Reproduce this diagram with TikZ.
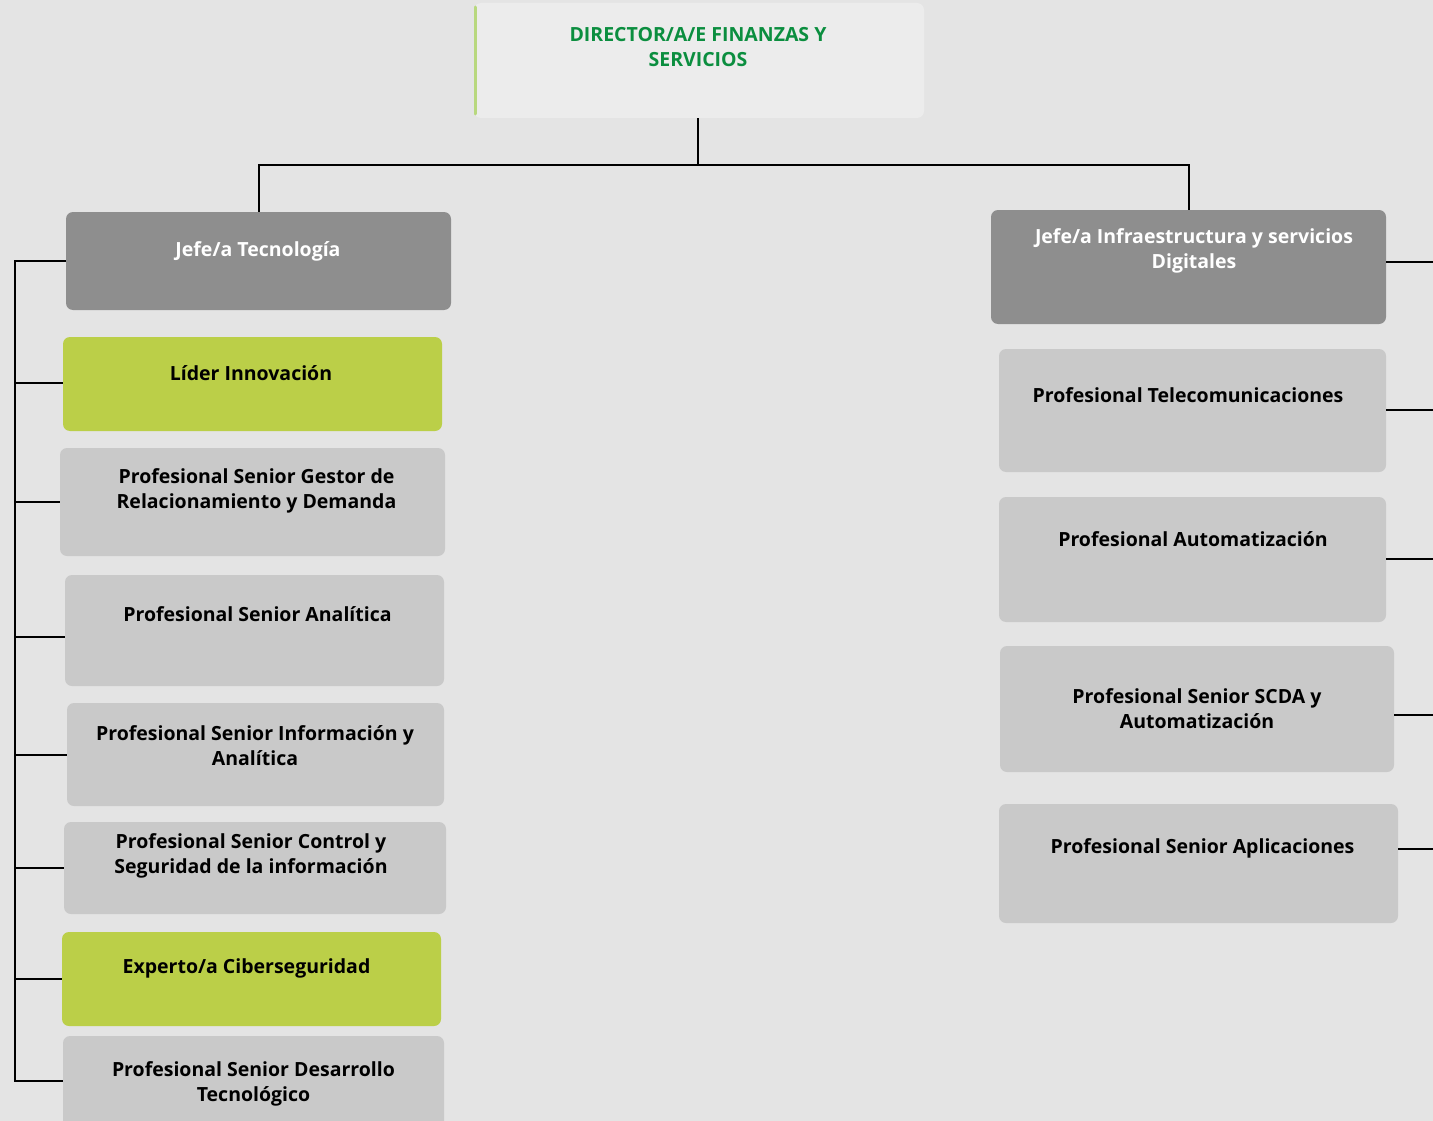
\documentclass[tikz,border=0pt]{standalone}
\usepackage{fontspec}
\setmainfont{Open Sans}
\definecolor{bg}{HTML}{E4E4E4}
\definecolor{topfill}{HTML}{ECECEC}
\definecolor{darkbox}{HTML}{8E8E8E}
\definecolor{lightbox}{HTML}{C9C9C9}
\definecolor{greenbox}{HTML}{BBCF48}
\definecolor{titlegreen}{HTML}{0B8E3F}
\definecolor{edgegreen}{HTML}{B8D87E}
\tikzset{
  boxbase/.style={draw=none, rounded corners=7pt, inner sep=0pt},
  darkb/.style={boxbase, fill=darkbox},
  lightb/.style={boxbase, fill=lightbox},
  greenb/.style={boxbase, fill=greenbox},
  topb/.style={boxbase, fill=topfill},
  txt/.style={font=\bfseries\fontsize{19.5}{25}\selectfont, align=center, inner sep=0pt, text=black},
  wtxt/.style={txt, text=white},
  gtxt/.style={txt, text=titlegreen},
  conn/.style={draw=black, line width=2pt},
}
\begin{document}
\begin{tikzpicture}[x=1pt, y=-1pt]
\path[use as bounding box] (0,0) rectangle (1433,1121);
\clip (0,0) rectangle (1433,1121);
\fill[bg] (0,0) rectangle (1433,1121);

% top box
\node[topb, minimum width=450pt, minimum height=115pt] (dir) at (699,60.5) {};
\coordinate (eg1) at (475.5,7);
\coordinate (eg2) at (475.5,114);
\draw[edgegreen, line width=3pt, line cap=round] (eg1) -- (eg2);
\node[gtxt] (tdir) at (698,47.5) {DIRECTOR/A/E FINANZAS Y\\SERVICIOS};

% left column
\node[darkb, minimum width=385pt, minimum height=98pt] (jt) at (258.5,261) {};
\node[wtxt] (tjt) at (258,251) {Jefe/a Tecnología};
\node[greenb, minimum width=379pt, minimum height=94pt] (li) at (252.5,384) {};
\node[txt] (tli) at (251,373) {Líder Innovación};
\node[lightb, minimum width=385pt, minimum height=108pt] (ge) at (252.5,502) {};
\node[txt] (tge) at (256.5,490.5) {Profesional Senior Gestor de\\Relacionamiento y Demanda};
\node[lightb, minimum width=379pt, minimum height=111pt] (an) at (254.5,630.5) {};
\node[txt] (tan) at (257.5,614) {Profesional Senior Analítica};
\node[lightb, minimum width=377pt, minimum height=103pt] (in) at (255.5,754.5) {};
\node[txt] (tin) at (255,745.5) {Profesional Senior Información y\\Analítica};
\node[lightb, minimum width=382pt, minimum height=92pt] (cs) at (255,868) {};
\node[txt] (tcs) at (251,855.5) {Profesional Senior Control y\\Seguridad de la información};
\node[greenb, minimum width=379pt, minimum height=94pt] (ci) at (251.5,979) {};
\node[txt] (tci) at (246.5,968) {Experto/a Ciberseguridad};
\node[lightb, minimum width=381pt, minimum height=100pt] (de) at (253.5,1086) {};
\node[txt] (tde) at (253.5,1084) {Profesional Senior Desarrollo\\Tecnológico};

% right column
\node[darkb, minimum width=395pt, minimum height=114pt] (ji) at (1188.5,267) {};
\node[wtxt] (tji) at (1194,251) {Jefe/a Infraestructura y servicios\\Digitales};
\node[lightb, minimum width=387pt, minimum height=123pt] (te) at (1192.5,410.5) {};
\node[txt] (tte) at (1188,395) {Profesional Telecomunicaciones};
\node[lightb, minimum width=387pt, minimum height=125pt] (au) at (1192.5,559.5) {};
\node[txt] (tau) at (1193,539) {Profesional Automatización};
\node[lightb, minimum width=394pt, minimum height=126pt] (sc) at (1197,709) {};
\node[txt] (tsc) at (1197,708.5) {Profesional Senior SCDA y\\Automatización};
\node[lightb, minimum width=399pt, minimum height=119pt] (ap) at (1198.5,863.5) {};
\node[txt] (tap) at (1202.5,848) {Profesional Senior Aplicaciones};

% top connectors
\coordinate (hub) at (698,165);
\draw[conn] (dir.south -| hub) -- (hub);
\draw[conn] (jt.north) |- (hub) -| (ji.north);

% left spine
\coordinate (ls1) at (15,261);
\coordinate (ls2) at (15,1081);
\draw[conn] (jt.west) -- (ls1) -- (ls2) -- (de.west |- ls2);
\draw[conn] (15,383) -- (li.west |- 0,383);
\draw[conn] (15,502) -- (ge.west |- 0,502);
\draw[conn] (15,637) -- (an.west |- 0,637);
\draw[conn] (15,755) -- (in.west |- 0,755);
\draw[conn] (15,868) -- (cs.west |- 0,868);
\draw[conn] (15,979) -- (ci.west |- 0,979);

% right stubs
\draw[conn] (ji.east |- 0,262) -- (1440,262);
\draw[conn] (te.east |- 0,410) -- (1440,410);
\draw[conn] (au.east |- 0,559) -- (1440,559);
\draw[conn] (sc.east |- 0,715) -- (1440,715);
\draw[conn] (ap.east |- 0,849) -- (1440,849);
\end{tikzpicture}
\end{document}
